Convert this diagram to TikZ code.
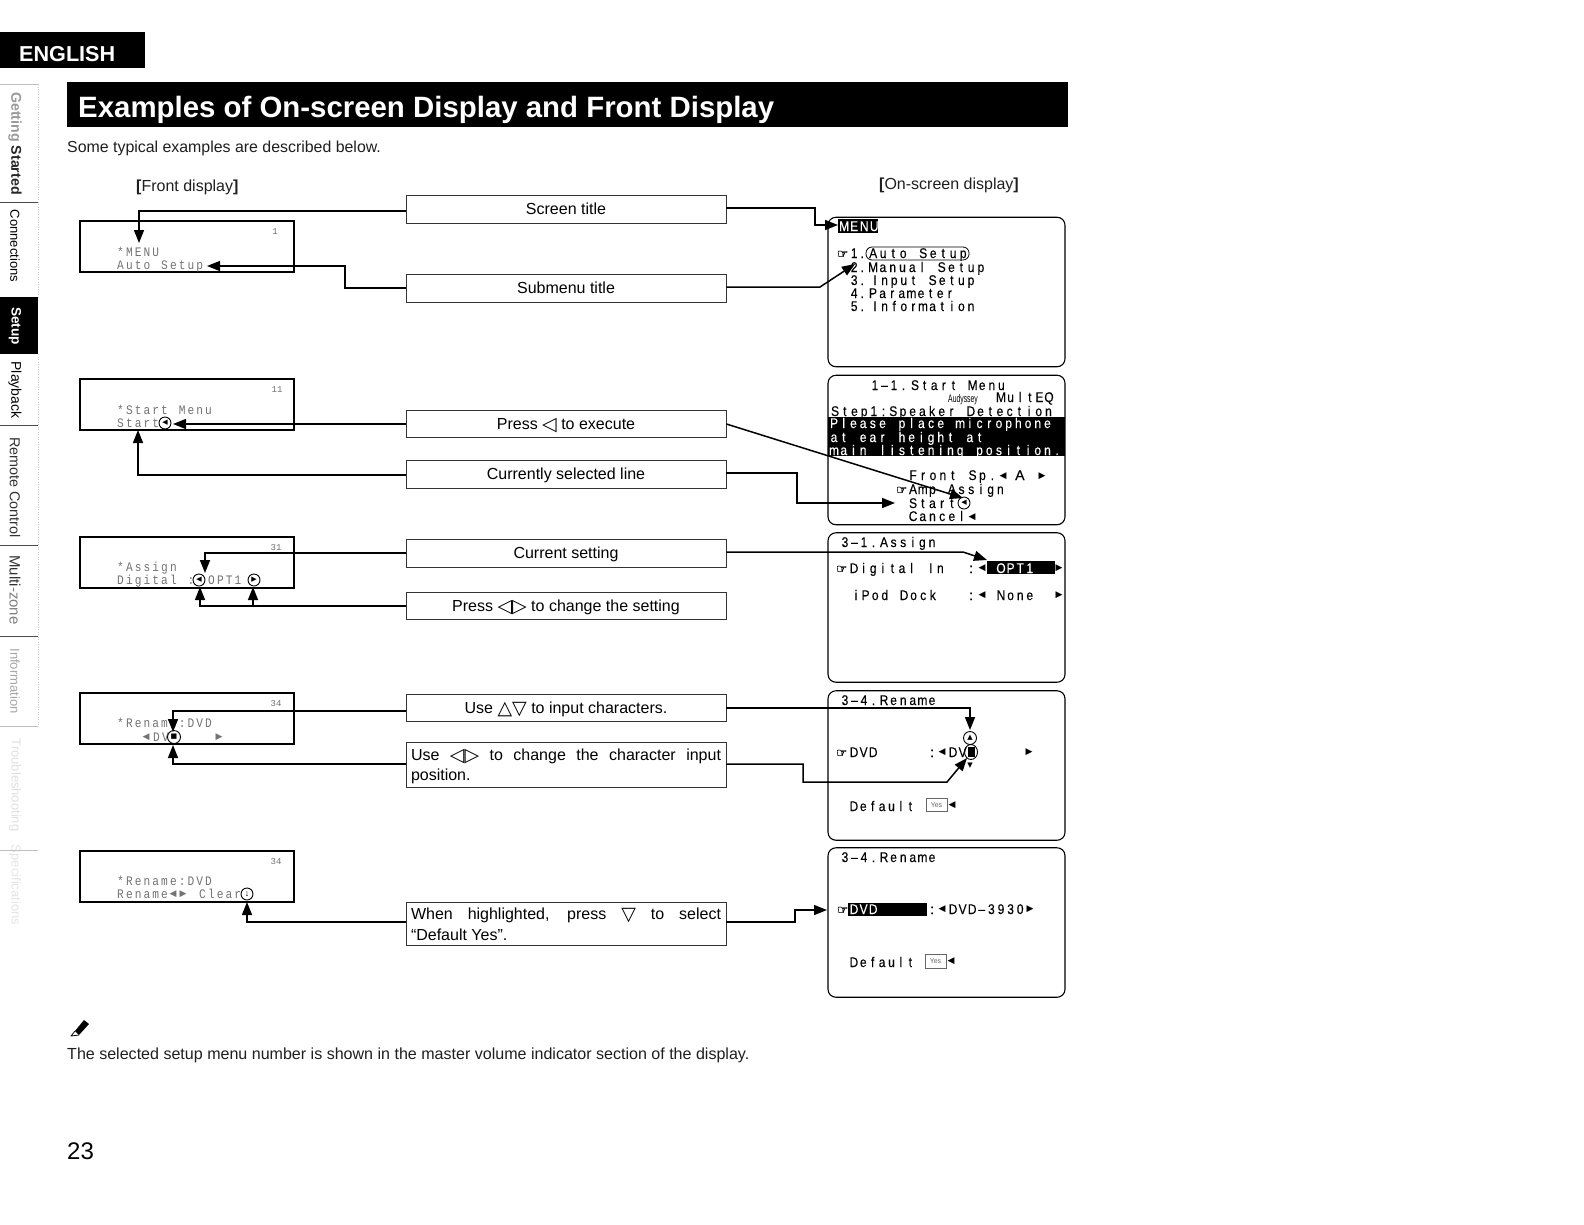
\documentclass[tikz,border=0pt]{standalone}
\usepackage{fontspec}
\usetikzlibrary{arrows.meta,calc,shapes.geometric}
\setmainfont{Liberation Sans}
\newfontfamily\symf{DejaVu Sans}
\newfontfamily\handf[FakeBold=1.2]{DejaVu Sans}
\newfontfamily\lcdf{Liberation Mono}
\newfontfamily\scrf[FakeBold=0.2]{Liberation Sans}
\newcommand{\fs}[2]{\fontsize{#1}{#2}\selectfont}
\ExplSyntaxOn
\NewDocumentCommand\cells{mm}{\str_map_inline:nn{#2}{\makebox[#1pt]{\scalebox{0.86}[1]{##1}}}}
\ExplSyntaxOff
\definecolor{lcdgray}{gray}{0.45}
\tikzset{
  x=1pt,y=-1pt,
  centerbox/.style={draw=black!80,line width=0.8pt,minimum width=320pt,inner sep=0pt,font=\fs{16}{20},fill=white},
  oneline/.style={text height=10pt,text depth=0pt},
  lcdbox/.style={draw=black,line width=1.2pt,minimum width=214pt,minimum height=51pt,inner sep=0pt},
  scrbox/.style={draw=black,line width=1.1pt,rounded corners=8pt,minimum width=237pt,minimum height=149.5pt,inner sep=0pt},
  conn/.style={draw=black,line width=1.5pt},
  tipconn/.style={conn,-{Triangle[length=13pt,width=10pt]}},
  scrtxt/.style={anchor=base west,inner sep=0pt,font=\scrf\fs{14}{14}},
  lcdtxt/.style={anchor=base west,inner sep=0pt,font=\lcdf\fs{13}{13},text=lcdgray},
  lcdnum/.style={anchor=center,inner sep=0pt,font=\lcdf\fs{9}{9},text=lcdgray},
  glyph/.style={anchor=center,inner sep=0pt,font=\symf\fs{9}{9}},
  hand/.style={anchor=base west,inner sep=0pt,font=\handf\fs{12.5}{12.5}},
  blackbar/.style={fill=black,draw=none,inner sep=0pt},
  ring/.style={circle,draw=black,line width=0.9pt,inner sep=0pt,minimum size=12pt,font=\symf\fs{7}{7}},
  tabtxt/.style={rotate=-90,inner sep=0pt},
  tabrule/.style={draw=black!70,line width=0.7pt},
  yesbox/.style={draw=black!60,line width=0.8pt,inner sep=0pt,minimum width=21pt,minimum height=13.5pt,font=\fs{7}{7},text=black!60},
  plain/.style={anchor=base west,inner sep=0pt},
}
\newcommand{\gsym}[1]{{\symf\fs{19}{20}\raisebox{-1pt}{#1}}}
\begin{document}
\begin{tikzpicture}
\useasboundingbox (0,0) rectangle (1584,1224);
\fill[white] (0,0) rectangle (1584,1224);
% page header
\node[blackbar,minimum width=145pt,minimum height=36pt] (eng) at (72.5,50) {};
\node[plain,text=white,font=\bfseries\fs{21.6}{22}] (engtxt) at (19,61) {ENGLISH};
\node[blackbar,minimum width=1001pt,minimum height=45pt] (titlebar) at (567.5,104.5) {};
\node[plain,text=white,font=\bfseries\fs{29.4}{30}] (title) at (78,117.5) {Examples of On-screen Display and Front Display};
\node[plain,font=\fs{15.9}{16},text=black!88] (intro) at (67,152) {Some typical examples are described below.};
\node[plain,font=\fs{16}{16},text=black!88] (hfront) at (136,191) {{\bfseries[}Front display{\bfseries]}};
\node[plain,font=\fs{16}{16},text=black!88] (hscreen) at (879,189) {{\bfseries[}On-screen display{\bfseries]}};
% side tabs
\node[blackbar,minimum width=38pt,minimum height=57pt] (setupbar) at (19,325.5) {};
\node[tabtxt,font=\bfseries\fs{14.2}{14}] (tab1) at (15,143.5) {{\color{black!40}Getting} {\color{black!85}Started}};
\node[tabtxt,text=black,font=\fs{13}{13}] (tab2) at (15,246) {Connections};
\node[tabtxt,text=white,font=\bfseries\fs{13.6}{14}] (tab3) at (15,326) {Setup};
\node[tabtxt,text=black,font=\fs{14}{14}] (tab4) at (15,390) {Playback};
\node[tabtxt,text=black!80,font=\fs{14.4}{14}] (tab5) at (15,487.5) {Remote Control};
\node[tabtxt,font=\fs{15}{15}] (tab6) at (15,590) {{\color{black!80}Multi}{\color{black!50}-zone}};
\node[tabtxt,text=black!35,font=\fs{13}{13}] (tab7) at (15,681) {Information};
\node[tabtxt,text=black!12,font=\fs{13}{13}] (tab8) at (15,785) {Troubleshooting};
\node[tabtxt,text=black!10,font=\fs{13}{13}] (tab9) at (15,885) {Specifications};
\foreach \yy in {202,425,545,636} \draw[tabrule] (0,\yy) -- (38,\yy);
\draw[black!25,line width=0.5pt] (0,84) -- (38,84) (0,726) -- (38,726) (0,850) -- (38,850);
\draw[black!20,line width=0.5pt,dotted] (38,84) -- (38,297) (38,354) -- (38,725);
% LCD boxes
\node[lcdbox] (lcd1) at (187,246.5) {};
\node[lcdbox] (lcd2) at (187,404.5) {};
\node[lcdbox] (lcd3) at (187,562.5) {};
\node[lcdbox] (lcd4) at (187,718.5) {};
\node[lcdbox] (lcd5) at (187,876.5) {};
% LCD text
\node[lcdnum] (n1) at (275,232) {1};
\node[lcdtxt] (l1a) at (116,256.5) {\cells{8.8}{*MENU}};
\node[lcdtxt] (l1b) at (116,269.5) {\cells{8.8}{Auto Setup}};
\node[lcdnum] (n2) at (277,390) {11};
\node[lcdtxt] (l2a) at (116,414.5) {\cells{8.8}{*Start Menu}};
\node[lcdtxt] (l2b) at (116,427.5) {\cells{8.8}{Start}};
\node[ring] (r2) at (165,423) {◀};
\node[lcdnum] (n3) at (276,548) {31};
\node[lcdtxt] (l3a) at (116,571.5) {\cells{8.8}{*Assign}};
\node[lcdtxt] (l3b) at (116,584.5) {\cells{8.8}{Digital :}};
\node[ring] (r3a) at (199,580) {◀};
\node[lcdtxt] (l3c) at (207,584.5) {\cells{8.8}{OPT1}};
\node[ring] (r3b) at (254,580) {▶};
\node[lcdnum] (n4) at (276,704) {34};
\node[lcdtxt] (l4a) at (116,727.5) {\cells{8.8}{*Rename:DVD}};
\node[glyph,text=lcdgray] (l4g1) at (146,737) {◀};
\node[lcdtxt] (l4b) at (152,741.5) {\cells{8.8}{DV}};
\node[ring,minimum size=13pt] (r4) at (174,737) {■};
\node[glyph,text=lcdgray] (l4g2) at (219,737) {▶};
\node[lcdnum] (n5) at (276,862) {34};
\node[lcdtxt] (l5a) at (116,885.5) {\cells{8.8}{*Rename:DVD}};
\node[lcdtxt] (l5b) at (116,898.5) {\cells{8.8}{Rename}};
\node[glyph,text=lcdgray] (l5g1) at (173,894) {◀};
\node[glyph,text=lcdgray] (l5g2) at (183,894) {▶};
\node[lcdtxt] (l5c) at (198,898.5) {\cells{8.8}{Clear}};
\node[ring,font=\lcdf\fs{9}{9}] (r5) at (247,894) {↓};
% screens
\node[scrbox] (s1) at (946.5,292) {};
\node[scrbox] (s2) at (946.5,450) {};
\node[scrbox] (s3) at (946.5,607.5) {};
\node[scrbox] (s4) at (946.5,765.5) {};
\node[scrbox] (s5) at (946.5,922.5) {};
% screen 1
\node[blackbar,minimum width=40pt,minimum height=14pt] (b1) at (858,226) {};
\node[scrtxt,text=white] (s1a) at (839,231) {\cells{10}{MENU}};
\node[hand] (h1) at (837,258) {☞};
\node[scrtxt] (s1b) at (850,258) {\cells{8}{1.}};
\node[rectangle,rounded corners=6pt,draw=black,line width=0.8pt,minimum width=103pt,minimum height=13pt,inner sep=0pt] (ov1) at (917.5,253.5) {};
\node[scrtxt] (s1c) at (868,258) {\cells{10}{Auto Setup}};
\node[scrtxt] (s1d) at (850,272) {\cells{8}{2.}};
\node[scrtxt] (s1e) at (868,272) {\cells{9.8}{Manual Setup}};
\node[scrtxt] (s1f) at (850,285) {\cells{8}{3.}};
\node[scrtxt] (s1g) at (870,285) {\cells{9.6}{Input Setup}};
\node[scrtxt] (s1h) at (850,298) {\cells{8}{4.}};
\node[scrtxt] (s1i) at (868,298) {\cells{9.6}{Parameter}};
\node[scrtxt] (s1j) at (850,311) {\cells{8}{5.}};
\node[scrtxt] (s1k) at (870,311) {\cells{9.6}{Information}};
% screen 2
\node[scrtxt] (s2a) at (870,390) {\cells{9.5}{1–1.}};
\node[scrtxt] (s2b) at (910,390) {\cells{9.6}{Start Menu}};
\node[plain,font=\fs{11}{11}] (s2c) at (948,402) {\scalebox{0.62}[1]{Audyssey}};
\node[scrtxt] (s2d) at (996,402) {\cells{9.6}{MultEQ}};
\node[scrtxt] (s2e) at (830,416) {\cells{9.7}{Step1:Speaker Detection}};
\node[blackbar,minimum width=237pt,minimum height=39pt] (b2) at (946.5,436.5) {};
\node[scrtxt,text=white] (s2f) at (829,428) {\cells{9.7}{Please place microphone}};
\node[scrtxt,text=white] (s2g) at (829,442) {\cells{9.7}{at ear height at}};
\node[scrtxt,text=white] (s2h) at (829,455) {\cells{9.7}{main listening position.}};
\node[scrtxt] (s2i) at (908,480) {\cells{9.9}{Front Sp.}};
\node[glyph] (s2j) at (1003,476) {◀};
\node[scrtxt] (s2k) at (1015,480) {A};
\node[glyph] (s2l) at (1042,476) {▶};
\node[hand] (h2) at (896,494) {☞};
\node[scrtxt] (s2m) at (908,494) {\cells{9.7}{Amp Assign}};
\node[scrtxt] (s2n) at (908,508) {\cells{9.7}{Start}};
\node[ring] (r2s) at (964,503) {◀};
\node[scrtxt] (s2o) at (908,521) {\cells{9.7}{Cancel}};
\node[glyph] (s2p) at (972,517) {◀};
% screen 3
\node[scrtxt] (s3a) at (840,547) {\cells{9.5}{3–1.}};
\node[scrtxt] (s3b) at (879,547) {\cells{9.6}{Assign}};
\node[hand] (h3) at (836,573) {☞};
\node[scrtxt] (s3c) at (849,573) {\cells{9.6}{Digital In}};
\node[scrtxt] (s3d) at (969,573) {:};
\node[glyph] (s3e) at (982,568) {◀};
\node[blackbar,minimum width=68pt,minimum height=13pt] (b3) at (1021,567.5) {};
\node[scrtxt,text=white] (s3f) at (996,573) {\cells{9.6}{OPT1}};
\node[glyph] (s3g) at (1059,568) {▶};
\node[scrtxt] (s3h) at (851,600) {\cells{9.6}{iPod Dock}};
\node[scrtxt] (s3i) at (969,600) {:};
\node[glyph] (s3j) at (982,595) {◀};
\node[scrtxt] (s3k) at (996,600) {\cells{9.6}{None}};
\node[glyph] (s3l) at (1059,595) {▶};
% screen 4
\node[scrtxt] (s4a) at (840,705) {\cells{9.5}{3–4.}};
\node[scrtxt] (s4b) at (879,705) {\cells{9.6}{Rename}};
\node[hand] (h4) at (836,757) {☞};
\node[scrtxt] (s4c) at (849,757) {\cells{9.6}{DVD}};
\node[scrtxt] (s4d) at (930,757) {:};
\node[glyph] (s4e) at (942,752) {◀};
\node[scrtxt] (s4f) at (948,757) {\cells{9.6}{DV}};
\node[blackbar,minimum width=7pt,minimum height=10pt] (b4) at (971,752) {};
\node[ellipse,draw=black,line width=0.9pt,minimum width=13pt,minimum height=15pt,inner sep=0pt] (ov4) at (971,752) {};
\node[ring,minimum size=13pt] (r4u) at (970,738) {▲};
\node[glyph,font=\symf\fs{7}{7}] (s4g) at (970,766) {▼};
\node[glyph] (s4h) at (1029,752) {▶};
\node[scrtxt] (s4i) at (849,811) {\cells{9.4}{Default}};
\node[yesbox] (y4) at (936.5,805) {Yes};
\node[glyph] (s4j) at (952,805) {◀};
% screen 5
\node[scrtxt] (s5a) at (840,862) {\cells{9.5}{3–4.}};
\node[scrtxt] (s5b) at (879,862) {\cells{9.6}{Rename}};
\node[hand] (h5) at (837,914) {☞};
\node[blackbar,minimum width=79pt,minimum height=13pt] (b5) at (887.5,909.5) {};
\node[scrtxt,text=white] (s5c) at (849,914) {\cells{9.6}{DVD}};
\node[scrtxt] (s5d) at (930,914) {:};
\node[glyph] (s5e) at (942,909) {◀};
\node[scrtxt] (s5f) at (948,914) {\cells{9.6}{DVD–3930}};
\node[glyph] (s5g) at (1030,909) {▶};
\node[scrtxt] (s5h) at (849,967) {\cells{9.4}{Default}};
\node[yesbox] (y5) at (935.5,961.5) {Yes};
\node[glyph] (s5i) at (951,961.5) {◀};
% centre boxes
\node[centerbox,oneline,minimum height=28pt] (c1) at (566,209) {Screen title};
\node[centerbox,oneline,minimum height=28pt] (c2) at (566,288) {Submenu title};
\node[centerbox,oneline,minimum height=27pt] (c3) at (566,424) {Press \gsym{◁} to execute};
\node[centerbox,oneline,minimum height=28pt] (c4) at (566,474) {Currently selected line};
\node[centerbox,oneline,minimum height=28pt] (c5) at (566,553) {Current setting};
\node[centerbox,oneline,minimum height=27pt] (c6) at (566,606) {Press \gsym{◁▷} to change the setting};
\node[centerbox,oneline,minimum height=27.5pt] (c7) at (566,708) {Use \gsym{△▽} to input characters.};
\node[centerbox,minimum height=45pt,align=left] (c8) at (566,765) {\rule{0pt}{15pt}\makebox[310pt][s]{Use \gsym{◁▷} to change the character input}\\\makebox[310pt][l]{position.}};
\node[centerbox,minimum height=43pt,align=left] (c9) at (566,924) {\rule{0pt}{12pt}\makebox[310pt][s]{When highlighted, press \gsym{▽} to select}\\[1pt]\makebox[310pt][l]{``Default Yes''.}};
% free ends
\coordinate (t1) at (139,243);
\coordinate (t2) at (207,266);
\coordinate (t3) at (173,424);
\coordinate (t4) at (138,430);
\coordinate (t5) at (205,573);
\coordinate (t6a) at (200,587);
\coordinate (t6b) at (253,587);
\coordinate (t7) at (173,732);
\coordinate (t8) at (173,745);
\coordinate (t9) at (247,902);
\coordinate (j6) at (253,606);
\coordinate (u1) at (838,225);
\coordinate (u2) at (855,264);
\coordinate (u3) at (963,498);
\coordinate (u4) at (895,503);
\coordinate (u5) at (987,560);
\coordinate (u7) at (970,730);
\coordinate (u8) at (967,758);
\coordinate (u9) at (827,910);
% connectors left
\draw[tipconn] ([yshift=-2pt]c1.west) -| (t1);
\draw[tipconn] (c2.west) -- (345,288) -- (345,266) -- (t2);
\draw[tipconn] (c3.west) -- (t3);
\draw[tipconn] ([yshift=-1pt]c4.west) -| (t4);
\draw[tipconn] (c5.west) -| (t5);
\draw[tipconn] (c6.west) -| (t6a);
\draw[tipconn] (j6) -- (t6b);
\draw[tipconn] ([yshift=-3pt]c7.west) -| (t7);
\draw[tipconn] ([yshift=1pt]c8.west) -| (t8);
\draw[tipconn] ([yshift=2pt]c9.west) -| (t9);
% connectors right
\draw[tipconn] ([yshift=1pt]c1.east) -- (815,208) -- (815,225) -- (u1);
\draw[tipconn] ([yshift=1pt]c2.east) -- (820,287) -- (u2);
\draw[tipconn] (c3.east) -- (u3);
\draw[tipconn] ([yshift=1pt]c4.east) -- (797,473) -- (797,503) -- (u4);
\draw[tipconn] ([yshift=1pt]c5.east) -- (963,552) -- (u5);
\draw[tipconn] (c7.east) -- (970,708) -- (u7);
\draw[tipconn] ([yshift=1pt]c8.east) -- (803,764) -- (803,782) -- (947,782) -- (u8);
\draw[tipconn] ([yshift=2pt]c9.east) -- (795,922) -- (795,910) -- (u9);
% footer: pencil drawn directly
\fill[black] (75,1031) -- (84,1020) -- (89,1024) -- (79,1035) -- cycle;
\draw[black,line width=0.8pt,line join=round] (75,1031) -- (71,1036) -- (79,1035);
\node[plain,font=\fs{16.05}{16},text=black!88] (note) at (67,1059) {The selected setup menu number is shown in the master volume indicator section of the display.};
\node[plain,font=\fs{24}{24}] (page) at (67,1159) {23};
\end{tikzpicture}
\end{document}
